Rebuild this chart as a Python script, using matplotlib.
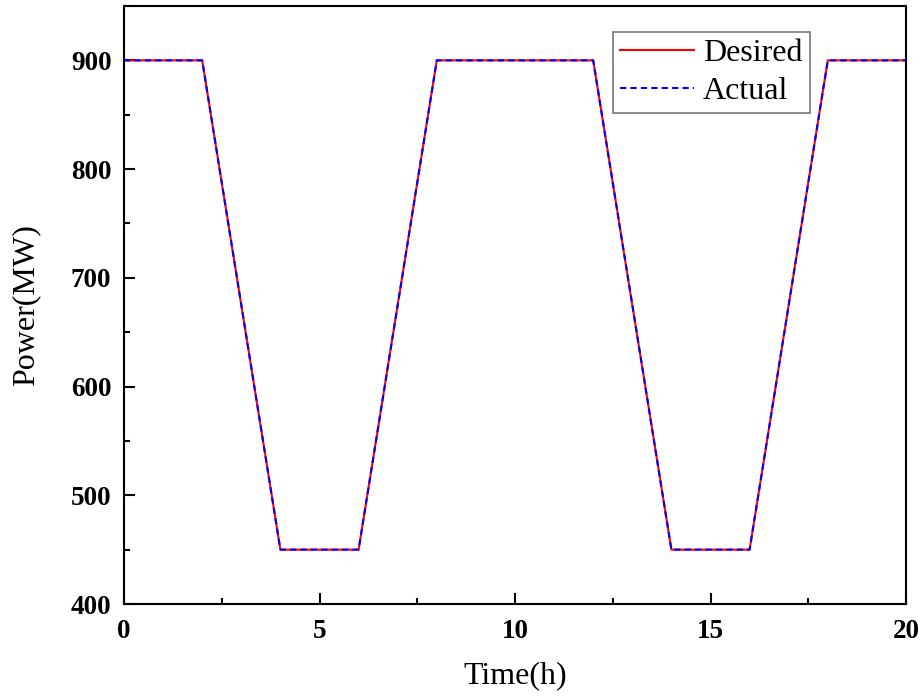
import matplotlib.pyplot as plt
from matplotlib.ticker import MultipleLocator

# datos
tiempo = [0, 2, 4, 6, 8, 12, 14, 16, 18, 20]
deseada = [900, 900, 450, 450, 900, 900, 450, 450, 900, 900]
real = [900, 900, 450, 450, 900, 900, 450, 450, 900, 900]

plt.rcParams['font.family'] = 'Liberation Serif'

fig = plt.figure(figsize=(9.24, 6.99), dpi=100)
ax = fig.add_axes([124/924, 1-604/699, (906-124)/924, (604-6)/699])

ax.plot(tiempo, deseada, color='red', lw=1.5, label='Desired')
ax.plot(tiempo, real, color='blue', lw=1.5, ls=(0, (3, 2)), label='Actual')

ax.set_xlim(0, 20)
ax.set_ylim(400, 950)
ax.xaxis.set_major_locator(MultipleLocator(5))
ax.xaxis.set_minor_locator(MultipleLocator(2.5))
ax.yaxis.set_major_locator(MultipleLocator(100))
ax.yaxis.set_minor_locator(MultipleLocator(50))
ax.tick_params(which='both', direction='in', top=False, right=False, width=1.5)
ax.tick_params(which='major', length=8, labelsize=19.5)
ax.tick_params(axis='x', which='major', pad=11)
ax.tick_params(axis='y', which='major', pad=9)
ax.tick_params(which='minor', length=4)
for lab in ax.get_xticklabels() + ax.get_yticklabels():
    lab.set_fontweight('bold')
for s in ax.spines.values():
    s.set_linewidth(1.5)

ax.set_xlabel('Time(h)', fontsize=23, labelpad=12)
ax.set_ylabel('Power(MW)', fontsize=23, labelpad=22)

leg = ax.legend(loc='upper left', bbox_to_anchor=((613-124)/782, 1-(32-6)/598),
                fontsize=23, frameon=True, fancybox=False, edgecolor='#555555',
                borderaxespad=0, handlelength=2.3, handletextpad=0.3,
                labelspacing=0.25, borderpad=0.22)
leg.get_frame().set_linewidth(1.2)

plt.savefig('out.png', dpi=100)
